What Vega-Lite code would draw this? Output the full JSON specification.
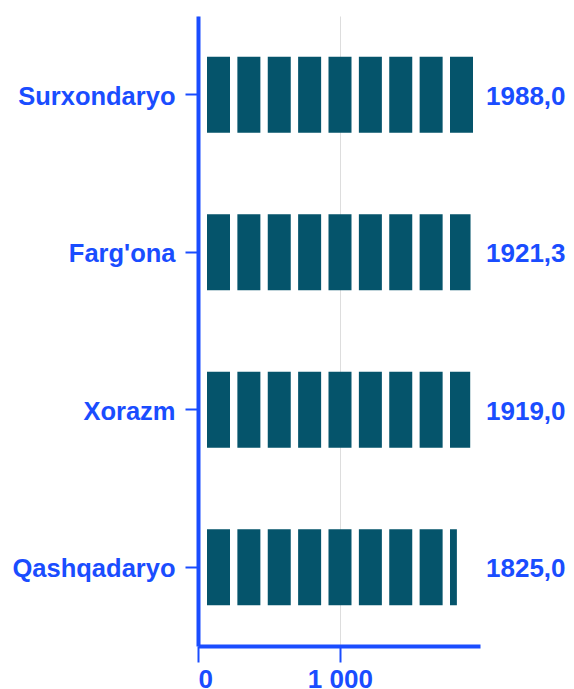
{
  "$schema": "https://vega.github.io/schema/vega-lite/v6.json",
  "width": 282,
  "height": 630,
  "autosize": {"type": "none"},
  "padding": {"left": 198, "top": 16, "right": 94, "bottom": 43},
  "background": "white",
  "config": {
    "view": {"stroke": null},
    "font": "Liberation Sans"
  },
  "data": {
    "values": [
      {"region": "Surxondaryo", "base": 0, "value": 1988.0, "label": "1988,0"},
      {"region": "Farg'ona", "base": 0, "value": 1921.3, "label": "1921,3"},
      {"region": "Xorazm", "base": 0, "value": 1919.0, "label": "1919,0"},
      {"region": "Qashqadaryo", "base": 0, "value": 1825.0, "label": "1825,0"}
    ]
  },
  "encoding": {
    "y": {
      "field": "region",
      "type": "nominal",
      "sort": ["Surxondaryo", "Farg'ona", "Xorazm", "Qashqadaryo"],
      "title": null,
      "axis": {
        "domainColor": "#1a4dff",
        "domainWidth": 4,
        "tickColor": "#1a4dff",
        "tickWidth": 2,
        "tickSize": 13,
        "labelPadding": 10,
        "labelColor": "#1a4dff",
        "labelFont": "Liberation Sans",
        "labelFontWeight": "bold",
        "labelFontSize": 25.5,
        "labelOffset": 2
      }
    }
  },
  "layer": [
    {
      "mark": {
        "type": "rule",
        "color": "#05546b",
        "strokeWidth": 76,
        "strokeDash": [23, 7.375],
        "strokeCap": "butt",
        "xOffset": 9
      },
      "encoding": {
        "x": {
          "field": "base",
          "type": "quantitative",
          "scale": {"domain": [0, 1988], "nice": false, "zero": true},
          "title": null,
          "axis": {
            "values": [0, 1000],
            "labelExpr": "replace(format(datum.value, ',d'), ',', ' ')",
            "grid": true,
            "gridColor": "#dddddd",
            "gridWidth": 1,
            "domainColor": "#1a4dff",
            "domainWidth": 4,
            "tickColor": "#1a4dff",
            "tickWidth": 2,
            "tickSize": 16,
            "labelPadding": 4,
            "labelColor": "#1a4dff",
            "labelFont": "Liberation Sans",
            "labelFontWeight": "bold",
            "labelFontSize": 26,
            "labelFlush": true
          }
        },
        "x2": {"field": "value"}
      }
    },
    {
      "mark": {
        "type": "text",
        "align": "left",
        "baseline": "middle",
        "dx": 6,
        "dy": 2,
        "font": "Liberation Sans",
        "fontWeight": "bold",
        "fontSize": 26,
        "color": "#1a4dff"
      },
      "encoding": {
        "x": {"datum": 1988, "type": "quantitative"},
        "text": {"field": "label"}
      }
    }
  ]
}
